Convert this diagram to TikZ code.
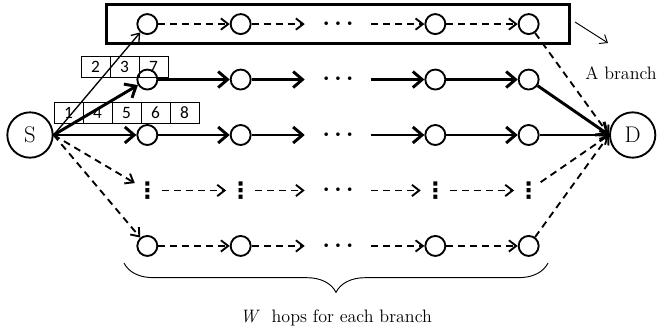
\documentclass[tikz,border=0pt]{standalone}
\usepackage{fontspec}
\newfontfamily\cellfont{Carlito}
\newfontfamily\symfont{DejaVu Sans}
\usetikzlibrary{positioning,arrows.meta,fit,decorations.pathreplacing}

\tikzset{
  hop/.style={draw, circle, line width=1.4pt, minimum size=15pt, inner sep=0pt},
  gap/.style={circle, minimum size=15pt, inner sep=0pt, font=\symfont\bfseries\fontsize{17}{17}\selectfont},
  more/.style={minimum width=49.5pt, minimum height=15pt, inner sep=0pt, font=\fontsize{16}{16}\selectfont\boldmath},
  terminal/.style={draw, circle, line width=1.4pt, minimum size=34pt, inner sep=0pt, font=\fontsize{17}{20}\selectfont},
  cell/.style={draw, line width=0.6pt, minimum width=21.75pt, minimum height=15.75pt, inner sep=0pt, font=\cellfont\fontsize{13}{13}\selectfont},
  caption/.style={font=\fontsize{13.5}{16}\selectfont},
  boldhop/.style={line width=2.2pt, -{Straight Barb[length=7pt, width=12pt]}},
  midhop/.style={line width=1.4pt, -{Straight Barb[length=6pt, width=9pt]}},
  thinhop/.style={line width=1pt, -{Straight Barb[length=5.5pt, width=8pt]}},
  dashhop/.style={line width=1.4pt, dash pattern=on 5.25pt off 3.75pt, -{Straight Barb[length=5.5pt, width=8.5pt]}},
  branchbox/.style={draw, line width=2.2pt, inner xsep=22.5pt, inner ysep=6.4pt},
}

\begin{document}
\begin{tikzpicture}[x=0.75pt, y=-0.75pt, node distance=41.6pt and 70pt, on grid]
    \useasboundingbox (0,0) rectangle (661,333);

    \node[cell] (n2) at (95.5,67) {2};
    \node[cell, right=21.75pt of n2] (n3) {3};
    \node[cell, right=21.75pt of n3] (n7) {7};
    \node[cell] (n1) at (68.5,112.5) {1};
    \node[cell, right=21.75pt of n1] (n4) {4};
    \node[cell, right=21.75pt of n4] (n5) {5};
    \node[cell, right=21.75pt of n5] (n6) {6};
    \node[cell, right=21.75pt of n6] (n8) {8};

    \node[terminal] (S) at (30,135) {S};
    \node[hop, right=88pt of S] (r3a) {};
    \node[hop, above=of r3a] (r2a) {};
    \node[hop, above=of r2a] (r1a) {};
    \node[gap, below=of r3a] (r4a) {⋮};
    \node[hop, below=of r4a] (r5a) {};

    \node[hop, right=of r1a] (r1b) {};
    \node[more, right=73pt of r1b] (r1m) {$\cdots$};
    \node[hop, right=146pt of r1b] (r1c) {};
    \node[hop, right=of r1c] (r1d) {};

    \node[hop, right=of r2a] (r2b) {};
    \node[more, right=73pt of r2b] (r2m) {$\cdots$};
    \node[hop, right=146pt of r2b] (r2c) {};
    \node[hop, right=of r2c] (r2d) {};

    \node[hop, right=of r3a] (r3b) {};
    \node[more, right=73pt of r3b] (r3m) {$\cdots$};
    \node[hop, right=146pt of r3b] (r3c) {};
    \node[hop, right=of r3c] (r3d) {};

    \node[gap, right=of r4a] (r4b) {⋮};
    \node[more, right=73pt of r4b] (r4m) {$\cdots$};
    \node[gap, right=146pt of r4b] (r4c) {⋮};
    \node[gap, right=of r4c] (r4d) {⋮};

    \node[hop, right=of r5a] (r5b) {};
    \node[more, right=73pt of r5b] (r5m) {$\cdots$};
    \node[hop, right=146pt of r5b] (r5c) {};
    \node[hop, right=of r5c] (r5d) {};

    \node[terminal, right=78pt of r3d] (D) {D};

    \node[branchbox, fit=(r1a)(r1d)] (branch) {};
    \node[caption] (lbl) at (621,73) {A branch};
    \coordinate (tail) at (575,22);
    \coordinate (tip) at (608,43);
    \draw[line width=0.7pt, -{Straight Barb[length=5pt, width=8pt]}] (tail) -- (tip);

    \draw[thinhop] (S.east) -- (r1a);
    \draw[boldhop] (S.east) -- (r2a);
    \draw[boldhop] (S.east) -- (r3a);
    \draw[dashhop] (S.east) -- (r4a);
    \draw[dashhop] (S.east) -- (r5a);

    \draw[dashhop] (r1a) -- (r1b);
    \draw[dashhop] (r1b) -- (r1m);
    \draw[dashhop] (r1m) -- (r1c);
    \draw[dashhop] (r1c) -- (r1d);
    \draw[dashhop] (r1d) -- (D.west);

    \draw[boldhop] (r2a) -- (r2b);
    \draw[boldhop] (r2b) -- (r2m);
    \draw[boldhop] (r2m) -- (r2c);
    \draw[boldhop] (r2c) -- (r2d);
    \draw[boldhop] (r2d) -- (D.west);

    \draw[boldhop] (r3a) -- (r3b);
    \draw[boldhop] (r3b) -- (r3m);
    \draw[boldhop] (r3m) -- (r3c);
    \draw[boldhop] (r3c) -- (r3d);
    \draw[midhop] (r3d) -- (D.west);

    \draw[dashhop] (r4a) -- (r4b);
    \draw[dashhop] (r4b) -- (r4m);
    \draw[dashhop] (r4m) -- (r4c);
    \draw[dashhop] (r4c) -- (r4d);
    \draw[dashhop] (r4d) -- (D.west);

    \draw[dashhop] (r5a) -- (r5b);
    \draw[dashhop] (r5b) -- (r5m);
    \draw[dashhop] (r5m) -- (r5c);
    \draw[dashhop] (r5c) -- (r5d);
    \draw[dashhop] (r5d) -- (D.west);

    \coordinate (bl) at (124,263);
    \coordinate (br) at (548,263);
    \draw[line width=0.7pt, decorate, decoration={brace, mirror, amplitude=22pt}] (bl) -- (br);
    \node[caption] (hops) at (336,318) {\textit{W}\ \ hops for each branch};
\end{tikzpicture}
\end{document}
